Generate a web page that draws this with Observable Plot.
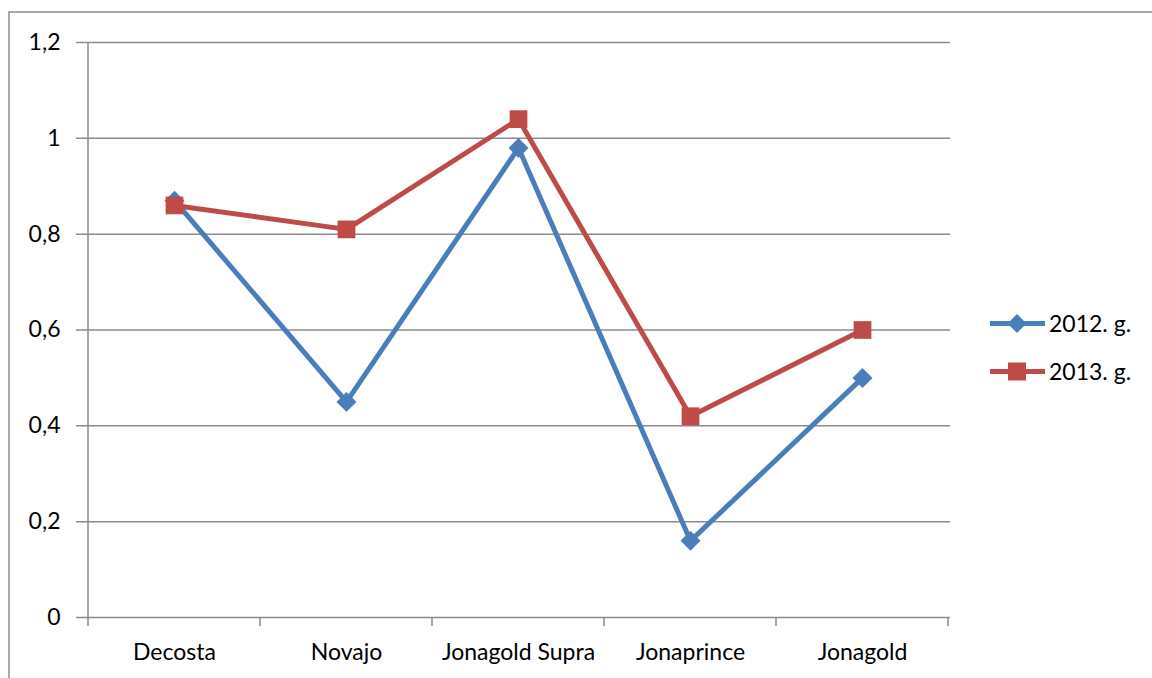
<!DOCTYPE html>
<html>
<head>
<meta charset="utf-8">
<script src="https://cdn.jsdelivr.net/npm/d3@7"></script>
<script src="https://cdn.jsdelivr.net/npm/@observablehq/plot@0.6"></script>
<style>
  html, body { margin: 0; padding: 0; background: #fff; }
  #chart { width: 1152px; height: 678px; overflow: hidden; }
  svg { font-family: Lato, "Open Sans", sans-serif; }
  svg text { font-size: 23px; font-weight: 400; }
</style>
</head>
<body>
<div id="chart"></div>
<script>
const categories = ["Decosta", "Novajo", "Jonagold Supra", "Jonaprince", "Jonagold"];
const seriesNames = ["2012. g.", "2013. g."];
const values2012 = [0.87, 0.45, 0.98, 0.16, 0.50];
const values2013 = [0.86, 0.81, 1.04, 0.42, 0.60];
const yTicks = [0, 0.2, 0.4, 0.6, 0.8, 1.0, 1.2];
const yTickLabels = ["0", "0,2", "0,4", "0,6", "0,8", "1", "1,2"];
const colors = ["#4a7ebb", "#be4b48"];

const rows = [];
categories.forEach((c, i) => {
  rows.push({cat: c, value: values2012[i], series: seriesNames[0]});
  rows.push({cat: c, value: values2013[i], series: seriesNames[1]});
});
const s2012 = rows.filter(d => d.series === seriesNames[0]);
const s2013 = rows.filter(d => d.series === seriesNames[1]);

const gray = "#8a8a8a";
const plot = Plot.plot({
  width: 1152,
  height: 678,
  marginLeft: 86,
  marginRight: 202,
  marginTop: 42,
  marginBottom: 61,
  style: {fontSize: "23px", fontFamily: "Lato, 'Open Sans', sans-serif", color: "#000", overflow: "visible"},
  x: {type: "band", domain: categories, padding: 0, label: null},
  y: {domain: [0, 1.2], label: null},
  marks: [
    Plot.ruleY(yTicks, {y: d => d, stroke: gray, strokeWidth: 1.5, strokeOpacity: 1, insetLeft: -10}),
    Plot.axisY({ticks: yTicks, tickFormat: (d) => yTickLabels[yTicks.indexOf(d)], tickSize: 0, tickPadding: 26, fill: "#000", fontSize: 23}),
    Plot.axisX({tickSize: 0, tickPadding: 26, fill: "#000", fontSize: 23}),
    Plot.line(s2012, {x: "cat", y: "value", stroke: colors[0], strokeWidth: 5}),
    Plot.line(s2013, {x: "cat", y: "value", stroke: colors[1], strokeWidth: 5}),
    Plot.dot(s2012, {x: "cat", y: "value", symbol: "diamond2", fill: colors[0], r: 9}),
    Plot.dot(s2013, {x: "cat", y: "value", symbol: "square", fill: colors[1], r: 10})
  ]
});
document.getElementById("chart").appendChild(plot);

// Axis lines, band boundary ticks, outer border, legend
const svg = d3.select(plot);
const xs = plot.scale("x");
const ys = plot.scale("y");
const y0 = ys.apply(0), yTop = ys.apply(1.2);
const x0 = xs.apply(categories[0]);
const bw = xs.bandwidth;
const g = svg.append("g");
g.append("line").attr("x1", x0).attr("x2", x0).attr("y1", yTop).attr("y2", y0 + 9)
  .attr("stroke", gray).attr("stroke-width", 1.5);
categories.forEach((c) => {
  const x = xs.apply(c) + bw;
  g.append("line").attr("x1", x).attr("x2", x).attr("y1", y0).attr("y2", y0 + 9)
    .attr("stroke", gray).attr("stroke-width", 1.5);
});
g.append("rect").attr("x", 9).attr("y", 12).attr("width", 1200).attr("height", 700)
  .attr("fill", "none").attr("stroke", gray).attr("stroke-width", 1.5);

const legY = [ys.apply(0.6) - 6, ys.apply(0.6) + 42];
seriesNames.forEach((name, i) => {
  const y = legY[i];
  const lg = svg.append("g").attr("text-anchor", "start");
  lg.append("line").attr("x1", 990).attr("x2", 1045).attr("y1", y).attr("y2", y)
    .attr("stroke", colors[i]).attr("stroke-width", 5);
  if (i === 0) {
    lg.append("path").attr("d", d3.symbol(d3.symbolDiamond2, 230)()).attr("transform", `translate(1017,${y})`).attr("fill", colors[i]);
  } else {
    lg.append("rect").attr("x", 1008).attr("y", y - 9).attr("width", 18).attr("height", 18).attr("fill", colors[i]);
  }
  lg.append("text").attr("x", 1049).attr("y", y).attr("dy", "0.35em").attr("text-anchor", "start").attr("fill", "#000").text(name);
});
</script>
</body>
</html>
